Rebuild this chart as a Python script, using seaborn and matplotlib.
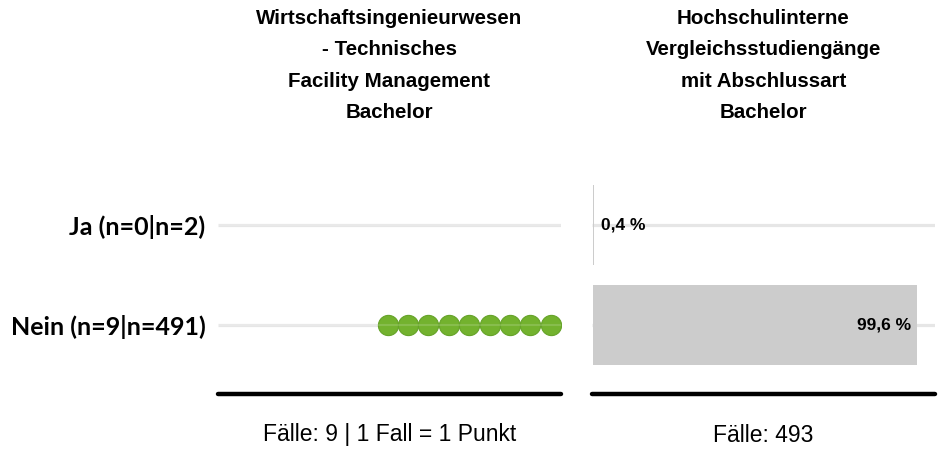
import numpy as np
import pandas as pd
import matplotlib
matplotlib.use("Agg")
import matplotlib.pyplot as plt
import seaborn as sns

# ---------------------------------------------------------
# Data
# ---------------------------------------------------------
categories = ["Ja", "Nein"]
n_program = [0, 9]          # Fälle im Studiengang (1 Fall = 1 Punkt)
n_compare = [2, 491]        # Fälle Vergleichsstudiengänge
pct_compare = [0.4, 99.6]   # Anteil in %

title_left = "Wirtschaftsingenieurwesen\n- Technisches\nFacility Management\nBachelor"
title_right = "Hochschulinterne\nVergleichsstudiengänge\nmit Abschlussart\nBachelor"
footer_left = f"Fälle: {sum(n_program)} | 1 Fall = 1 Punkt"
footer_right = f"Fälle: {sum(n_compare)}"

row_labels = [f"{c} (n={a}|n={b})" for c, a, b in zip(categories, n_program, n_compare)]

GREEN = "#73b22e"
GREEN_EDGE = "#66a329"
BAR_GREY = "#cccccc"
GRID_GREY = "#e6e6e6"

sns.set_theme(style="white")
plt.rcParams["font.family"] = ["Liberation Sans", "DejaVu Sans"]
plt.rcParams["text.color"] = "black"
plt.rcParams["ytick.color"] = "black"

# ---------------------------------------------------------
# Layout
# ---------------------------------------------------------
W, H = 943, 450
fig = plt.figure(figsize=(W / 100, H / 100), dpi=100)
ax_l = fig.add_axes([218 / W, 56 / H, 343 / W, 214 / H])
ax_r = fig.add_axes([592 / W, 56 / H, 343 / W, 214 / H])

# dots: one per case, right-aligned
dot_rows = []
for i, (cat, n) in enumerate(zip(categories, n_program)):
    for k in range(n):
        dot_rows.append({"pos": k, "row": i})
dots = pd.DataFrame(dot_rows, columns=["pos", "row"])

n_max = max(n_program)
right_edge = n_max - 0.5
ax_l.set_xlim(right_edge - 343 / 20.4, right_edge)

ax_l.hlines(range(len(categories)), *ax_l.get_xlim(), color=GRID_GREY, lw=2.3, zorder=0)
sns.scatterplot(data=dots, x="pos", y="row", s=212, color=GREEN, edgecolor=GREEN_EDGE,
                linewidth=0.8, ax=ax_l, zorder=2, legend=False)
ax_l.hlines(range(len(categories)), *ax_l.get_xlim(), color="white", lw=1.5, alpha=0.15, zorder=3)

# bars: Vergleichsgruppe
bars = pd.DataFrame({"cat": categories, "pct": pct_compare})
ax_r.set_xlim(-0.31, 105.0)
ax_r.hlines(range(len(categories)), *ax_r.get_xlim(), color=GRID_GREY, lw=2.3, zorder=0)
sns.barplot(data=bars, x="pct", y="cat", order=categories, orient="h", color=BAR_GREY,
            width=0.8, saturation=1, edgecolor="none", ax=ax_r, zorder=2)

for i, p in enumerate(pct_compare):
    txt = f"{p:.1f} %".replace(".", ",")
    if p < 50:
        ax_r.annotate(txt, (p, i), xytext=(5, 0), textcoords="offset points",
                      ha="left", va="center", fontsize=12.5, fontweight="bold", zorder=4)
    else:
        ax_r.annotate(txt, (p, i), xytext=(-4.5, 0), textcoords="offset points",
                      ha="right", va="center", fontsize=12.5, fontweight="bold", zorder=4)

for ax in (ax_l, ax_r):
    ax.set_ylim(1.69, -0.45)
    ax.set_xlabel("")
    ax.set_ylabel("")
    ax.set_xticks([])
    for side in ("top", "left", "right"):
        ax.spines[side].set_visible(False)
    ax.spines["bottom"].set_color("black")
    ax.spines["bottom"].set_linewidth(3.2)
    ax.spines["bottom"].set_capstyle("round")
    ax.set_facecolor("none")

ax_l.set_yticks(range(len(categories)))
ax_l.set_yticklabels(row_labels, fontsize=18, fontweight="bold", family=["Lato", "DejaVu Sans"])
ax_l.tick_params(axis="y", length=0, pad=9)
ax_r.set_yticks([])

# titles and footers
for ax, title, foot in ((ax_l, title_left, footer_left), (ax_r, title_right, footer_right)):
    cx = ax.get_position().x0 + ax.get_position().width / 2
    fig.text(cx, 1 - 9 / H, title, ha="center", va="top", fontsize=14.8, fontweight="bold",
             linespacing=1.82)
    fig.text(cx, 15 / H, foot, ha="center", va="center", fontsize=16.5)

fig.savefig("out.png", dpi=100, facecolor="white")
